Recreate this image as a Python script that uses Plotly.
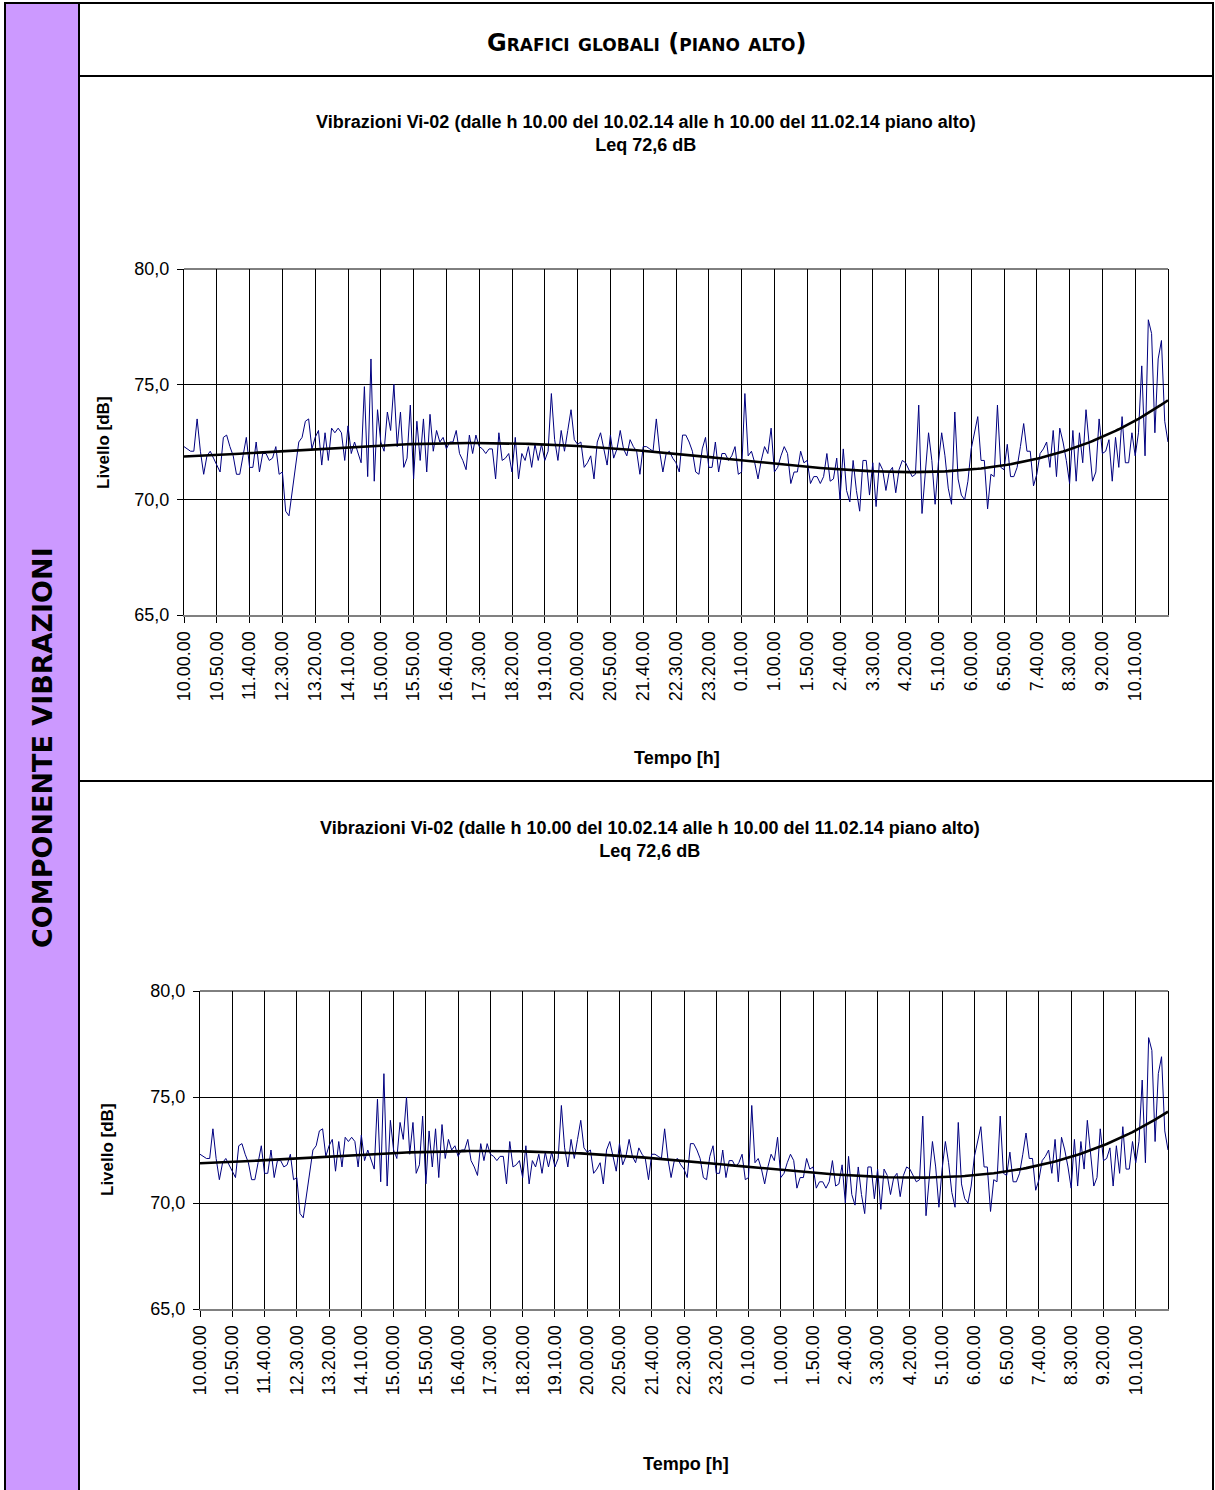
import numpy as np
import pandas as pd
import plotly.graph_objects as go

LARGHEZZA, ALTEZZA = 1215, 1490

# Misure a intervalli di 5 minuti a partire dalle 10.00 del 10.02.14
inizio_misura = "2014-02-10 10:00"
passo_misura = "5min"

# Livello di vibrazione [dB], una riga per ogni intervallo di 50 minuti
livello_db = [
    72.3, 72.2, 72.1, 72.1, 73.5, 72.1, 71.1, 71.9, 72.1, 71.8,
    71.5, 71.2, 72.7, 72.8, 72.3, 71.9, 71.1, 71.1, 71.9, 72.7,
    71.4, 71.4, 72.5, 71.2, 72.0, 72.0, 71.7, 71.8, 72.3, 71.1,
    71.2, 69.5, 69.3, 70.4, 71.5, 72.5, 72.7, 73.4, 73.5, 72.2,
    72.7, 73.0, 71.5, 72.9, 71.7, 73.1, 72.9, 73.1, 72.9, 71.7,
    73.2, 72.0, 72.5, 72.0, 71.6, 74.9, 71.0, 76.1, 70.8, 73.9,
    72.5, 72.1, 73.8, 73.0, 75.0, 72.3, 73.8, 71.4, 71.8, 74.1,
    70.9, 73.4, 71.7, 73.5, 71.2, 73.7, 72.1, 73.0, 72.5, 72.7,
    72.2, 72.5, 72.5, 73.0, 72.0, 71.7, 71.3, 72.8, 72.0, 72.8,
    72.3, 72.2, 72.0, 72.2, 72.2, 70.9, 72.9, 71.7, 71.8, 72.0,
    71.2, 72.7, 70.9, 72.0, 71.7, 72.3, 71.4, 72.4, 71.7, 72.4,
    71.7, 72.1, 74.6, 72.6, 71.7, 73.0, 72.1, 73.0, 73.9, 72.6,
    72.4, 72.5, 71.4, 71.6, 71.9, 70.9, 72.5, 72.9, 72.2, 71.5,
    72.8, 71.8, 72.2, 73.0, 72.2, 71.9, 72.6, 72.3, 72.1, 71.1,
    72.3, 72.3, 72.2, 72.1, 73.5, 72.1, 71.2, 72.0, 72.1, 71.8,
    71.6, 71.2, 72.8, 72.8, 72.5, 72.1, 71.2, 71.1, 72.2, 72.7,
    71.4, 71.4, 72.5, 71.2, 72.0, 72.0, 71.7, 71.9, 72.3, 71.1,
    71.2, 74.6, 71.9, 72.1, 71.6, 70.9, 71.7, 72.3, 72.0, 73.1,
    71.2, 71.4, 71.9, 72.3, 72.0, 70.7, 71.2, 71.2, 72.1, 71.6,
    71.7, 70.7, 71.0, 71.0, 70.7, 71.0, 72.0, 70.8, 70.9, 71.8,
    70.0, 72.2, 70.4, 69.9, 71.7, 70.4, 69.5, 71.7, 71.7, 70.2,
    71.6, 69.7, 71.6, 71.3, 70.4, 71.2, 71.4, 70.3, 71.3, 71.7,
    71.6, 71.3, 71.0, 71.1, 74.1, 69.4, 71.1, 72.9, 71.7, 69.8,
    71.6, 72.9, 71.9, 70.5, 69.8, 73.8, 70.9, 70.2, 70.0, 70.8,
    72.2, 72.9, 73.6, 71.7, 71.7, 69.6, 71.1, 71.0, 74.1, 71.4,
    71.3, 72.4, 71.0, 71.0, 71.4, 72.3, 73.3, 72.1, 72.1, 70.6,
    71.1, 72.0, 72.2, 72.5, 71.4, 73.0, 71.0, 73.1, 72.5, 71.7,
    70.7, 73.0, 70.8, 72.9, 71.6, 73.9, 72.4, 70.8, 71.2, 73.5,
    72.0, 72.1, 72.6, 70.8, 72.7, 71.4, 73.6, 71.6, 71.6, 72.9,
    71.9, 72.9, 75.8, 71.9, 77.8, 77.2, 72.9, 76.1, 76.9, 73.4,
    72.5,
]

# Etichette dell'asse dei tempi (una ogni 50 minuti)
etichette_tempo = [
    "10.00.00", "10.50.00", "11.40.00", "12.30.00", "13.20.00", "14.10.00",
    "15.00.00", "15.50.00", "16.40.00", "17.30.00", "18.20.00", "19.10.00",
    "20.00.00", "20.50.00", "21.40.00", "22.30.00", "23.20.00", "0.10.00",
    "1.00.00", "1.50.00", "2.40.00", "3.30.00", "4.20.00", "5.10.00",
    "6.00.00", "6.50.00", "7.40.00", "8.30.00", "9.20.00", "10.10.00",
]
passo_etichette = 10

livelli_asse_y = [65, 70, 75, 80]
leq_db = "72,6"
grado_tendenza = 4

titolo_grafico = ("<b>Vibrazioni Vi-02 (dalle h 10.00 del 10.02.14 alle h 10.00 "
                  "del 11.02.14 piano alto)</b>")

tempi = pd.date_range(inizio_misura, periods=len(livello_db), freq=passo_misura)
tempi_str = list(tempi.strftime("%Y-%m-%d %H:%M:%S"))
tick_tempi = tempi_str[::passo_etichette][:len(etichette_tempo)]

# Linea di tendenza polinomiale calcolata sui livelli misurati
indice = np.arange(len(livello_db)) / (len(livello_db) - 1)
coeff = np.polyfit(indice, np.array(livello_db), grado_tendenza)
tendenza_db = np.polyval(coeff, indice)


def px_x(x):
    return x / LARGHEZZA


def px_y(y):
    return 1 - y / ALTEZZA


FONT_GRAFICO = "Liberation Sans, Arial, sans-serif"
FONT_PAGINA = "DejaVu Sans, Verdana, sans-serif"

fig = go.Figure()

# Due grafici identici: area del tracciato in pixel della pagina
grafici = [
    dict(sx="", area_x=(184, 1168), area_y=(269, 615),
         titolo=(646, 133), asse_y=(103, 443), asse_x=(677, 758)),
    dict(sx="2", area_x=(200, 1168), area_y=(991, 1309),
         titolo=(650, 839), asse_y=(107, 1150), asse_x=(686, 1464)),
]

annotazioni = []
forme = []

for g in grafici:
    xa, ya = "x" + g["sx"], "y" + g["sx"]
    fig.add_trace(go.Scatter(
        x=tempi_str, y=livello_db, mode="lines", xaxis=xa, yaxis=ya,
        line=dict(color="#000080", width=1), name="Livello",
    ))
    fig.add_trace(go.Scatter(
        x=tempi_str, y=tendenza_db, mode="lines", xaxis=xa, yaxis=ya,
        line=dict(color="black", width=2.6), name="Tendenza",
    ))

    x0, x1 = g["area_x"]
    y0, y1 = g["area_y"]
    fig.update_layout(**{
        "xaxis" + g["sx"]: dict(
            type="date", domain=[px_x(x0), px_x(x1)], anchor=ya,
            range=[tempi_str[0], tempi_str[-1]],
            tickmode="array", tickvals=tick_tempi, ticktext=etichette_tempo,
            tickangle=-90, ticks="outside", ticklen=6, tickcolor="black",
            tickwidth=1, ticklabelstandoff=1, automargin=False,
            tickfont=dict(family=FONT_GRAFICO, size=18, color="black"),
            showgrid=True, gridcolor="black", gridwidth=1,
            showline=True, linecolor="#808080", linewidth=2,
            zeroline=False, fixedrange=True,
        ),
        "yaxis" + g["sx"]: dict(
            domain=[px_y(y1), px_y(y0)], anchor=xa,
            range=[65, 80], tickmode="array", tickvals=livelli_asse_y,
            tickformat=".1f", ticks="outside", ticklen=6, tickcolor="black",
            tickwidth=1, ticklabelstandoff=4, automargin=False,
            tickfont=dict(family=FONT_GRAFICO, size=18, color="black"),
            showgrid=True, gridcolor="black", gridwidth=1,
            showline=True, linecolor="black", linewidth=1, mirror=True,
            zeroline=False, fixedrange=True,
        ),
    })

    # bordo superiore dell'area del tracciato
    forme.append(dict(type="line", xref=xa + " domain", yref=ya + " domain",
                      x0=0, x1=1, y0=1, y1=1, line=dict(color="black", width=1)))

    tx, ty = g["titolo"]
    annotazioni.append(dict(
        x=px_x(tx), y=px_y(ty), xref="paper", yref="paper",
        text=titolo_grafico + "<br><b>Leq " + leq_db + " dB</b>",
        showarrow=False, xanchor="center", yanchor="middle",
        font=dict(family=FONT_GRAFICO, size=18, color="black"),
    ))
    ax, ay = g["asse_y"]
    annotazioni.append(dict(
        x=px_x(ax), y=px_y(ay), xref="paper", yref="paper",
        text="<b>Livello [dB]</b>", textangle=-90, showarrow=False,
        xanchor="center", yanchor="middle",
        font=dict(family=FONT_GRAFICO, size=17, color="black"),
    ))
    bx, by = g["asse_x"]
    annotazioni.append(dict(
        x=px_x(bx), y=px_y(by), xref="paper", yref="paper",
        text="<b>Tempo [h]</b>", showarrow=False,
        xanchor="center", yanchor="middle",
        font=dict(family=FONT_GRAFICO, size=18, color="black"),
    ))

# Intestazione della pagina e colonna laterale
annotazioni.append(dict(
    x=px_x(646), y=px_y(43), xref="paper", yref="paper",
    text="Grafici globali (piano alto)", showarrow=False,
    xanchor="center", yanchor="middle",
    font=dict(family=FONT_PAGINA, size=24, color="black",
              weight="bold", variant="small-caps"),
))
annotazioni.append(dict(
    x=px_x(42), y=px_y(748), xref="paper", yref="paper",
    text="COMPONENTE VIBRAZIONI", textangle=-90, showarrow=False,
    xanchor="center", yanchor="middle",
    font=dict(family=FONT_PAGINA, size=27, color="black", weight="bold"),
))

# Riquadri della tabella
forme = [
    dict(type="rect", xref="paper", yref="paper", layer="below",
         x0=px_x(5), x1=px_x(79), y0=px_y(ALTEZZA), y1=px_y(3),
         fillcolor="#CC99FF", line=dict(width=0)),
] + forme
linee_pagina = [
    (5, 3, 5, ALTEZZA),          # bordo sinistro
    (1213, 3, 1213, ALTEZZA),    # bordo destro
    (4, 3, 1214, 3),             # bordo superiore
    (79, 3, 79, ALTEZZA),        # separatore colonna laterale
    (79, 76, 1214, 76),          # fine intestazione
    (79, 781, 1214, 781),        # separatore tra i grafici
]
for (xa0, ya0, xa1, ya1) in linee_pagina:
    forme.append(dict(type="line", xref="paper", yref="paper",
                      x0=px_x(xa0), x1=px_x(xa1), y0=px_y(ya0), y1=px_y(ya1),
                      line=dict(color="black", width=2)))

fig.update_layout(
    width=LARGHEZZA, height=ALTEZZA,
    margin=dict(l=0, r=0, t=0, b=0, autoexpand=False),
    paper_bgcolor="white", plot_bgcolor="white",
    separators=",.", showlegend=False,
    font=dict(family=FONT_GRAFICO, size=18, color="black"),
    annotations=annotazioni, shapes=forme,
)

# pagina senza margini attorno alla figura
fig.write_html("out.html", post_script="document.body.style.margin = '0';")
